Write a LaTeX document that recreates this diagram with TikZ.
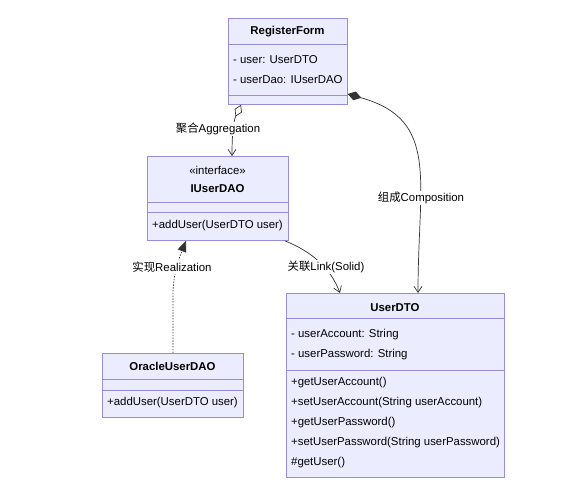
\documentclass[tikz,border=0pt]{standalone}
\usepackage{fontspec}
\setmainfont{Liberation Sans}
\newfontfamily\cjk{Noto Sans CJK SC}
\usetikzlibrary{arrows.meta,calc}
\definecolor{umlfill}{HTML}{ECECFF}
\definecolor{umlborder}{HTML}{9A8CD8}
\definecolor{edge}{HTML}{333333}
\begin{document}
\begin{tikzpicture}[x=1pt,y=-1pt,
  box/.style={draw=umlborder, fill=umlfill, line width=0.8pt, inner sep=0pt, anchor=north west},
  divider/.style={draw=umlborder, line width=0.8pt},
  txt/.style={font=\fontsize{11.4}{13}\selectfont, anchor=west, inner sep=0pt, text=black},
  ttl/.style={font=\fontsize{11.4}{13}\selectfont\bfseries, anchor=center, inner sep=0pt, text=black},
  elabel/.style={font=\fontsize{11.4}{13}\selectfont, fill=white, inner sep=1.5pt, text=black},
  conn/.style={draw=edge, line width=0.7pt},
  vhead/.style={-{Straight Barb[length=6pt,width=8pt,line width=0.7pt]}}
]
\useasboundingbox (0,0) rectangle (578,500);
\fill[white] (0,0) rectangle (578,500);

% RegisterForm
\node[box, minimum width=119pt, minimum height=86pt] (rf) at (228,18) {};
\draw[divider] (228,44) -- (347,44);
\draw[divider] (228,95) -- (347,95);
\node[ttl] (rft) at (287.5,32) {RegisterForm};
\node[txt] (rfa1) at (233,60) {- user: UserDTO};
\node[txt] (rfa2) at (233,80) {- userDao: IUserDAO};

% IUserDAO
\node[box, minimum width=141pt, minimum height=84pt] (idao) at (147,156) {};
\draw[divider] (147,202) -- (288,202);
\draw[divider] (147,212) -- (288,212);
\node[txt, anchor=center] (idaos) at (217.5,170) {«interface»};
\node[ttl] (idaot) at (217.5,189) {IUserDAO};
\node[txt] (idaom) at (152,226) {+addUser(UserDTO user)};

% OracleUserDAO
\node[box, minimum width=141pt, minimum height=64pt] (odao) at (102,353) {};
\draw[divider] (102,379) -- (243,379);
\draw[divider] (102,390) -- (243,390);
\node[ttl] (odaot) at (172.5,366) {OracleUserDAO};
\node[txt] (odaom) at (107,403) {+addUser(UserDTO user)};

% UserDTO
\node[box, minimum width=218pt, minimum height=184pt] (dto) at (286,293) {};
\draw[divider] (286,318) -- (504,318);
\draw[divider] (286,370) -- (504,370);
\node[ttl] (dtot) at (395,308) {UserDTO};
\node[txt] (dtoa1) at (291,335) {- userAccount: String};
\node[txt] (dtoa2) at (291,355) {- userPassword: String};
\node[txt] (dtom1) at (291,383) {+getUserAccount()};
\node[txt] (dtom2) at (291,403) {+setUserAccount(String userAccount)};
\node[txt] (dtom3) at (291,423) {+getUserPassword()};
\node[txt] (dtom4) at (291,443) {+setUserPassword(String userPassword)};
\node[txt] (dtom5) at (291,463) {\#getUser()};

% Aggregation
\draw[conn, {Diamond[open,fill=white,length=13pt,width=8pt,line width=0.7pt]}-{Straight Barb[length=6pt,width=8pt,line width=0.7pt]}]
  ([xshift=13pt]rf.south west) .. controls (234,120) and (232,130) .. ([xshift=85pt]idao.north west);
\node[elabel] (lagg) at (218,129) {{\cjk 聚合}Aggregation};

% Composition
\draw[conn, {Diamond[fill=edge,length=14pt,width=9pt,line width=0.7pt]}-{Straight Barb[length=6pt,width=8pt,line width=0.7pt]}]
  (rf.north east |- 0,94) .. controls (440,120) and (418,180) .. ([xshift=132pt]dto.north west);
\node[elabel] (lcomp) at (421,198) {{\cjk 组成}Composition};

% Link
\draw[conn, vhead]
  ([xshift=-4pt]idao.south east) .. controls (320,255) and (333,275) .. ([xshift=54pt]dto.north west);
\node[elabel] (llink) at (326,267) {{\cjk 关联}Link(Solid)};

% Realization
\draw[conn, dash pattern=on 1.4pt off 1.4pt, -{Triangle[length=11pt,width=9pt]}]
  ([xshift=71pt]odao.north west) -- (173,295) .. controls (173,272) and (180,256) .. ([xshift=39pt]idao.south west);
\node[elabel] (lreal) at (172,267) {{\cjk 实现}Realization};
\end{tikzpicture}
\end{document}
